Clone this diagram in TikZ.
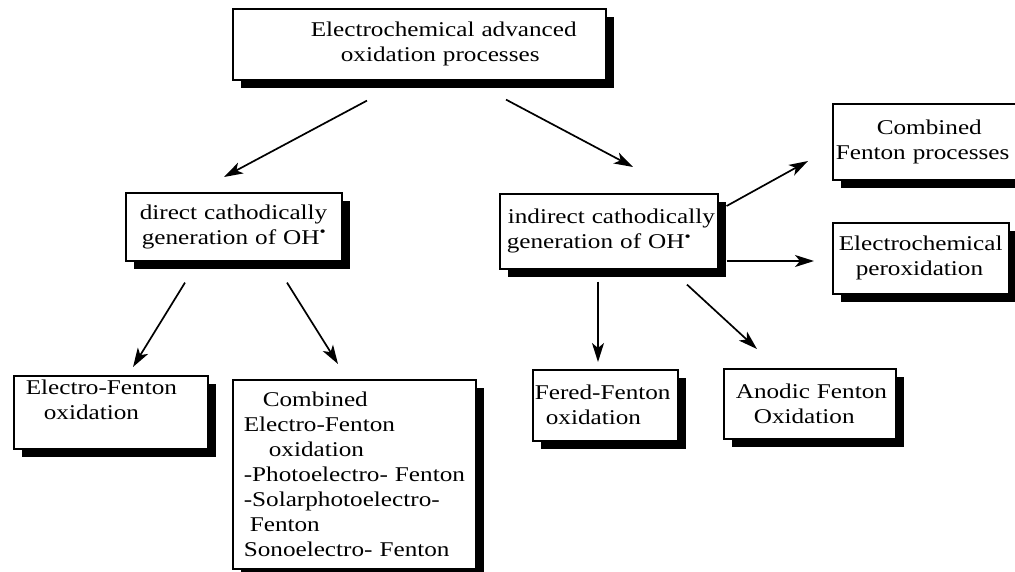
\documentclass[tikz,border=0pt]{standalone}
\usepackage{fontspec}
\setmainfont{Liberation Serif}[FakeStretch=1.2]
\usetikzlibrary{arrows.meta, shadows, calc}

\tikzset{
  procbox/.style={draw, fill=white, line width=1.6pt, anchor=north west,
    align=left, inner xsep=0pt, inner ysep=0pt,
    font=\fontsize{21}{25}\selectfont,
    drop shadow={shadow xshift=8pt, shadow yshift=-8pt, fill=black, opacity=1}},
  link/.style={line width=1.7pt, -{Stealth[length=19pt, width=12pt, inset=5pt]}}
}

\begin{document}
\begin{tikzpicture}[x=1pt, y=-1pt]
				\useasboundingbox (0,0) rectangle (1015,571);
				% les boites
				\node[procbox, text width=373pt, minimum width=373pt, minimum height=71pt] (eaop) at (232,8)
					{\hspace*{78pt}\mbox{Electrochemical advanced}\\\hspace*{108pt}\mbox{oxidation processes}};
				\node[procbox, text width=216pt, minimum width=216pt, minimum height=68pt] (direct) at (125,192)
					{\hspace*{14pt}\mbox{direct cathodically}\\\hspace*{16pt}\mbox{generation of OH\textsuperscript{\textbullet}}};
				\node[procbox, text width=218pt, minimum width=218pt, minimum height=75pt] (indirect) at (499,193)
					{\hspace*{8pt}\mbox{indirect cathodically}\\\hspace*{7pt}\mbox{generation of OH\textsuperscript{\textbullet}}};
				\node[procbox, text width=200pt, minimum width=200pt, minimum height=76pt] (cfenton) at (832,103)
					{\hspace*{44pt}\mbox{Combined}\\\hspace*{3pt}\mbox{Fenton processes}};
				\node[procbox, text width=176pt, minimum width=176pt, minimum height=71pt] (eperox) at (832,222)
					{\hspace*{6pt}\mbox{Electrochemical}\\\hspace*{23pt}\mbox{peroxidation}};
				\node[procbox, text width=194pt, minimum width=194pt, minimum height=73pt] (ef) at (13,375)
					{\hspace*{12pt}\mbox{Electro-Fenton}\\\hspace*{30pt}\mbox{oxidation}\\\mbox{}};
				\node[procbox, text width=243pt, minimum width=243pt, minimum height=189pt] (cef) at (232,379)
					{\hspace*{30pt}\mbox{Combined}\\
					 \hspace*{11pt}\mbox{Electro-Fenton}\\
					 \hspace*{36pt}\mbox{oxidation}\\
					 \hspace*{11pt}\mbox{-Photoelectro- Fenton}\\
					 \hspace*{11pt}\mbox{-Solarphotoelectro-}\\
					 \hspace*{17pt}\mbox{Fenton}\\
					 \hspace*{11pt}\mbox{Sonoelectro- Fenton}};
				\node[procbox, text width=145pt, minimum width=145pt, minimum height=71pt] (fered) at (532,369)
					{\hspace*{2pt}\mbox{Fered-Fenton}\\\hspace*{13pt}\mbox{oxidation}};
				\node[procbox, text width=172pt, minimum width=172pt, minimum height=70pt] (anodic) at (723,368)
					{\hspace*{12pt}\mbox{Anodic Fenton}\\\hspace*{30pt}\mbox{Oxidation}};
				% les fleches
				\draw[link] ($(eaop.south west)+(135,20)$) -- ($(direct.north west)+(99,-15)$);
				\draw[link] ($(eaop.south west)+(274,19)$) -- ($(indirect.north west)+(134,-26)$);
				\draw[link] ($(direct.south west)+(60,21)$) -- ($(ef.north west)+(120,-8)$);
				\draw[link] ($(direct.south west)+(162,21)$) -- ($(cef.north west)+(106,-15)$);
				\draw[link] ($(indirect.north east)+(8,13)$) -- ($(cfenton.north west)+(-24,58)$);
				\draw[link] ($(indirect.north east)+(8,68)$) -- ($(eperox.north west)+(-18,39)$);
				\draw[link] ($(indirect.south west)+(99,12)$) -- ($(fered.north west)+(66,-7)$);
				\draw[link] ($(indirect.south west)+(188,15)$) -- ($(anodic.north west)+(34,-19)$);
\end{tikzpicture}
\end{document}
